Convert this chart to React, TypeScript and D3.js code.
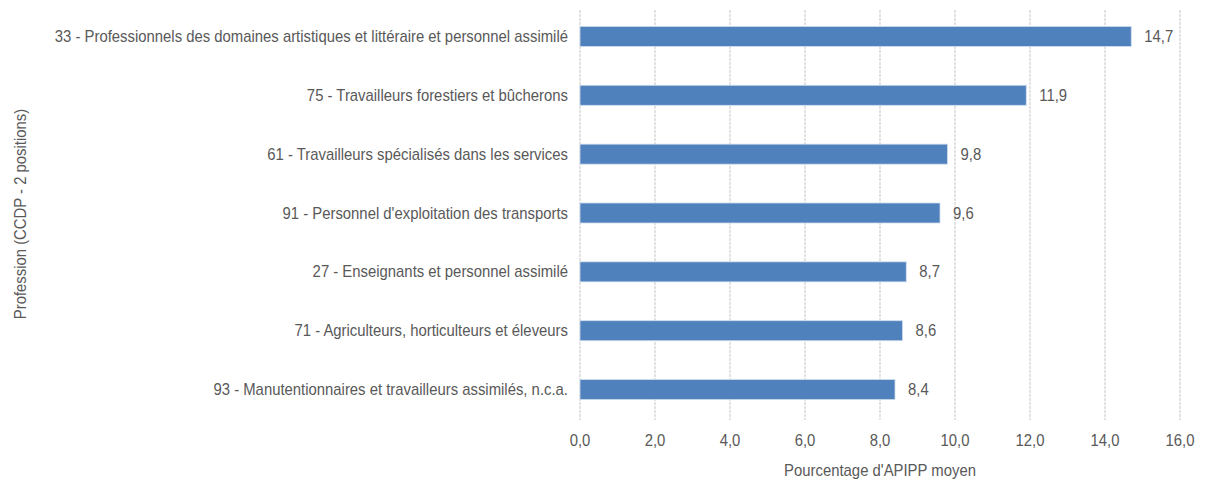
import React from 'react';
import * as d3 from 'd3';

const categories = [
  '33 - Professionnels des domaines artistiques et littéraire et personnel assimilé',
  '75 - Travailleurs forestiers et bûcherons',
  '61 - Travailleurs spécialisés dans les services',
  "91 - Personnel d'exploitation des transports",
  '27 - Enseignants et personnel assimilé',
  '71 - Agriculteurs, horticulteurs et éleveurs',
  '93 - Manutentionnaires et travailleurs assimilés, n.c.a.',
];
const values = [14.7, 11.9, 9.8, 9.6, 8.7, 8.6, 8.4];
const xTicks = [0, 2, 4, 6, 8, 10, 12, 14, 16];

const width = 1207;
const height = 483;
const font = '"Liberation Sans", Arial, sans-serif';
const textColor = '#595959';
const fs = 16;
const squeeze = 0.93;

const fmt = (v: number) => v.toFixed(1).replace('.', ',');

// narrow-ish text: Arial Narrow is not available, so squeeze Liberation Sans
function Label(props: { x: number; y: number; anchor?: string; rotate?: number; children: React.ReactNode }) {
  const { x, y, anchor = 'start', rotate = 0, children } = props;
  return (
    <text
      transform={`translate(${x},${y}) rotate(${rotate}) scale(${squeeze},1)`}
      textAnchor={anchor}
      dy="0.35em"
      fontSize={fs}
      fill={textColor}
    >
      {children}
    </text>
  );
}

export default function App() {
  const x = d3.scaleLinear().domain([0, 16]).range([580, 1180]);
  const y = d3.scaleBand<string>().domain(categories).range([7, 419]).paddingInner(0.66).paddingOuter(0.33);

  return (
    <svg width={width} height={height} style={{ position: 'absolute', left: 0, top: 0 }} fontFamily={font}>
      {xTicks.map((t) => (
        <g key={t}>
          <line x1={x(t)} x2={x(t)} y1={10} y2={420} stroke="#d0d0d0" strokeWidth={1.2} strokeDasharray="3,1" />
          <Label x={x(t)} y={440} anchor="middle">
            {fmt(t)}
          </Label>
        </g>
      ))}
      {categories.map((c, i) => (
        <g key={c}>
          <rect
            x={x(0)}
            y={y(c)!}
            width={x(values[i]) - x(0)}
            height={y.bandwidth()}
            fill="#4f81bd"
            stroke="#cfdcec"
            strokeWidth={0.8}
          />
          <Label x={568} y={y(c)! + y.bandwidth() / 2} anchor="end">
            {c}
          </Label>
          <Label x={x(values[i]) + 13} y={y(c)! + y.bandwidth() / 2}>
            {fmt(values[i])}
          </Label>
        </g>
      ))}
      <Label x={x(8)} y={470} anchor="middle">
        Pourcentage d'APIPP moyen
      </Label>
      <Label x={20} y={214} anchor="middle" rotate={-90}>
        Profession (CCDP - 2 positions)
      </Label>
    </svg>
  );
}
